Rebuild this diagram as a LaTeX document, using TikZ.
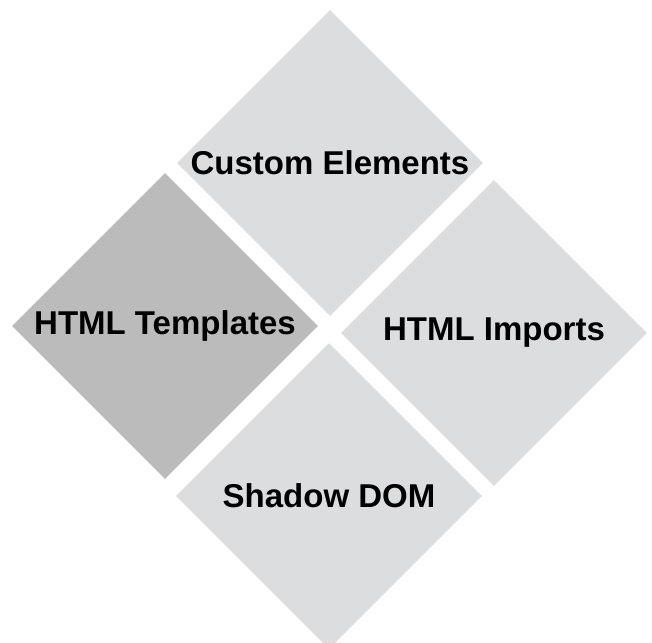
\documentclass[tikz,border=0pt]{standalone}
\usepackage{fontspec}
\setmainfont{Liberation Sans}
\usepackage{xcolor}
\usetikzlibrary{shapes.geometric}

\definecolor{tilelight}{HTML}{DCDDDF}
\definecolor{tiledark}{HTML}{BBBBBB}

\tikzset{
    tile/.style={diamond, minimum width=306pt, minimum height=306pt, inner sep=0pt, fill=tilelight},
    tiletext/.style={font=\fontsize{33}{39}\selectfont\bfseries, inner sep=0pt}
}

\begin{document}
\begin{tikzpicture}[x=1pt, y=-1pt]
    \useasboundingbox (0,0) rectangle (652,642);
    \clip (0,0) rectangle (652,642);

    % Tiles
    \node[tile] (custom) at (330,163) {};
    \node[tile, fill=tiledark] (templates) at (165,326) {};
    \node[tile] (imports) at (494,333) {};
    \node[tile] (shadow) at (329,496) {};

    % Labels
    \node[tiletext] (customlbl) at (custom.center) {Custom Elements};
    \node[tiletext] (templateslbl) at (templates.center) {HTML Templates};
    \node[tiletext] (importslbl) at (imports.center) {HTML Imports};
    \node[tiletext] (shadowlbl) at (shadow.center) {Shadow DOM};
\end{tikzpicture}
\end{document}
